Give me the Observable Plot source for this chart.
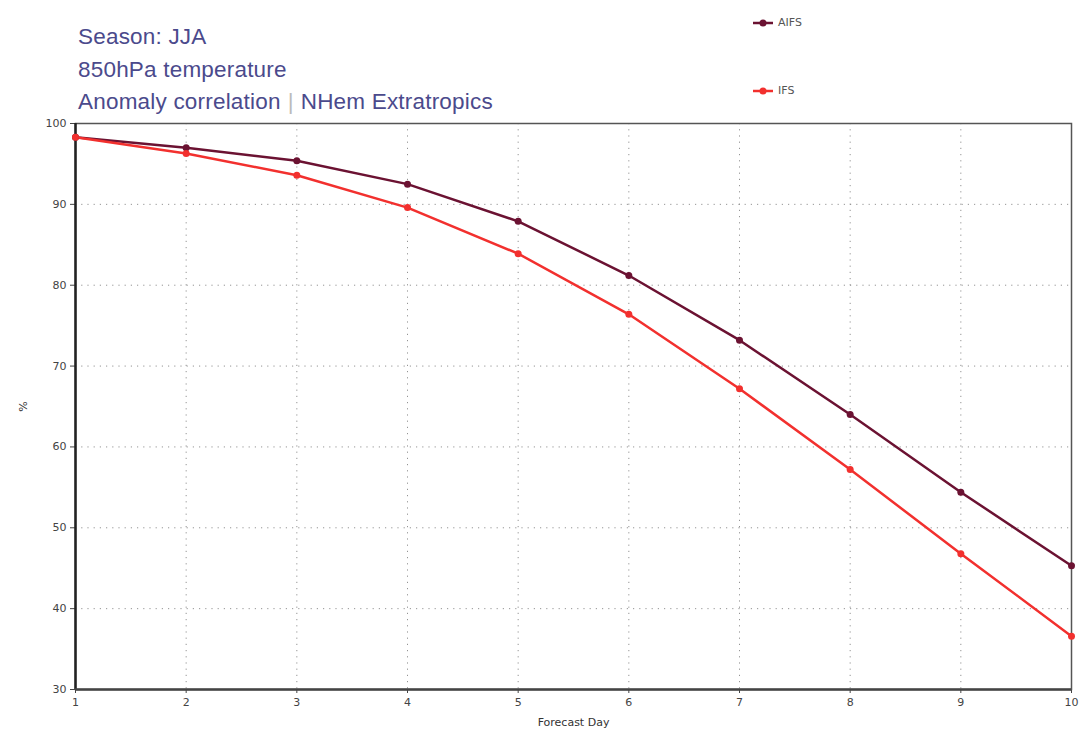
<!DOCTYPE html>
<html>
<head>
<meta charset="utf-8">
<script src="https://cdn.jsdelivr.net/npm/d3@7"></script>
<script src="https://cdn.jsdelivr.net/npm/@observablehq/plot@0.6"></script>
<style>
  html, body { margin: 0; padding: 0; background: #fff; }
  #wrap { position: relative; width: 1082px; height: 729px; font-family: "DejaVu Sans", sans-serif; }
  .title { position: absolute; left: 78px; color: #4b4a8c; font-size: 22.5px; letter-spacing: 0.2px; font-family: "Liberation Sans", Arial, sans-serif; white-space: nowrap; }
  .sep { color: #bbb; margin: 0 7px; }
  .leg { position: absolute; left: 752px; font-size: 11px; color: #555; display: flex; align-items: center; }
  .leg svg { margin-right: 4px; }
</style>
</head>
<body>
<div id="wrap"></div>
<script>
const days = [1, 2, 3, 4, 5, 6, 7, 8, 9, 10];
const aifs = [98.3, 97.0, 95.4, 92.5, 87.9, 81.2, 73.2, 64.0, 54.4, 45.3];
const ifs  = [98.3, 96.3, 93.6, 89.6, 83.9, 76.4, 67.2, 57.2, 46.8, 36.6];
const seriesNames = ["AIFS", "IFS"];
const seriesColors = ["#6b1232", "#f2302e"];
const yTicks = [30, 40, 50, 60, 70, 80, 90, 100];
const titles = [["Season: JJA"], ["850hPa temperature"], ["Anomaly correlation", "NHem Extratropics"]];

const data = [];
days.forEach((d, i) => {
  data.push({day: d, value: aifs[i], series: seriesNames[0]});
  data.push({day: d, value: ifs[i], series: seriesNames[1]});
});

const chart = Plot.plot({
  width: 1082,
  height: 729,
  marginLeft: 75,
  marginRight: 11,
  marginTop: 123,
  marginBottom: 40,
  style: {fontFamily: "DejaVu Sans, sans-serif", fontSize: "11px", color: "#444", background: "#fff"},
  x: {domain: [1, 10], ticks: days, tickFormat: d3.format("d"), label: "Forecast Day", labelAnchor: "center", labelOffset: 36, tickSize: 4, labelArrow: "none"},
  y: {domain: [30, 100], ticks: yTicks, label: "%", labelAnchor: "center", labelOffset: 56, tickSize: 5, labelArrow: "none"},
  color: {domain: seriesNames, range: seriesColors},
  marks: [
    Plot.gridX(days.slice(1, -1), {stroke: "#888", strokeOpacity: 0.9, strokeDasharray: "1.2,5"}),
    Plot.gridY(yTicks.slice(1, -1), {stroke: "#888", strokeOpacity: 0.9, strokeDasharray: "1.2,5"}),
    Plot.frame({stroke: "#555", strokeWidth: 1.5}),
    Plot.ruleX([1], {stroke: "#222", strokeWidth: 2.5}),
    Plot.ruleY([30], {stroke: "#444", strokeWidth: 2.5}),
    Plot.line(data, {x: "day", y: "value", stroke: "series", strokeWidth: 2.5}),
    Plot.dot(data, {x: "day", y: "value", fill: "series", r: 3.5})
  ]
});
chart.querySelectorAll('[aria-label="x-axis label"], [aria-label="y-axis label"]').forEach(g => g.setAttribute("fill", "#333"));

const wrap = document.getElementById("wrap");
wrap.appendChild(chart);
chart.style.position = "absolute";
chart.style.left = "0";
chart.style.top = "0";

const tops = [24, 57, 89];
titles.forEach((parts, i) => {
  const div = document.createElement("div");
  div.className = "title";
  div.style.top = tops[i] + "px";
  parts.forEach((p, j) => {
    if (j > 0) {
      const s = document.createElement("span");
      s.className = "sep";
      s.textContent = "|";
      div.appendChild(s);
    }
    div.appendChild(document.createTextNode(p));
  });
  wrap.appendChild(div);
});

const legTops = [16, 84];
seriesNames.forEach((name, i) => {
  const div = document.createElement("div");
  div.className = "leg";
  div.style.top = legTops[i] + "px";
  div.innerHTML = `<svg width="22" height="10"><line x1="1" y1="5" x2="21" y2="5" stroke="${seriesColors[i]}" stroke-width="2.5"/><circle cx="11" cy="5" r="3.5" fill="${seriesColors[i]}"/></svg>`;
  const span = document.createElement("span");
  span.textContent = name;
  div.appendChild(span);
  wrap.appendChild(div);
});
</script>
</body>
</html>
